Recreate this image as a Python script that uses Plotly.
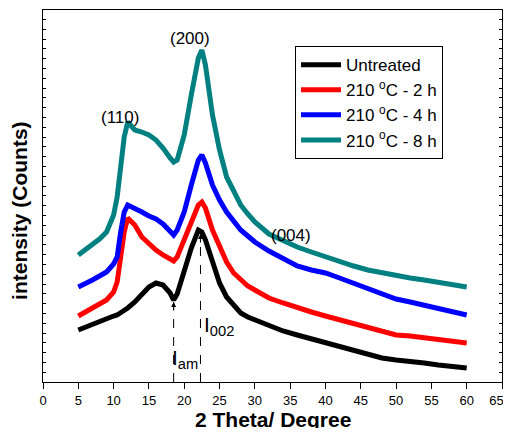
import plotly.graph_objects as go

two_theta = [5, 6, 7, 8, 9, 10, 10.5, 11, 11.5, 12, 13, 14, 15, 16, 17, 18, 18.5, 19, 20, 21, 22, 22.5, 23, 24, 25,
             26, 27, 28, 29, 30, 32, 34, 36, 38, 40, 42, 44, 46, 48, 50, 52, 54, 56, 58, 60]

untreated = [52, 55, 57, 60, 63, 66, 67, 69, 71, 74, 80, 88, 95, 99, 97, 89, 82, 88, 112, 134, 152, 150, 142, 119, 99,
             85, 76, 69, 65, 62, 56, 51, 47, 43, 39, 36, 32, 28, 24, 22, 21, 19, 17, 16, 14]
t2h = [66, 70, 73, 77, 82, 90, 100, 125, 150, 164, 157, 145, 138, 132, 127, 123, 121, 125, 142, 160, 177, 180, 174, 152, 135,
       120, 109, 102, 96, 92, 84, 79, 74, 70, 66, 62, 58, 54, 50, 47, 46, 44, 42, 41, 39]
t4h = [95, 98, 102, 106, 110, 118, 125, 150, 170, 177, 174, 170, 166, 163, 158, 150, 147, 152, 170, 197, 222, 227, 219, 197, 182,
       170, 160, 152, 146, 140, 131, 123, 116, 112, 109, 104, 99, 93, 89, 83, 80, 77, 74, 71, 67]
t8h = [127, 132, 137, 143, 150, 167, 185, 217, 245, 260, 252, 250, 247, 242, 234, 224, 220, 222, 247, 287, 324, 332, 317, 267, 232,
       205, 190, 177, 168, 160, 148, 141, 135, 130, 125, 121, 116, 112, 109, 106, 104, 102, 100, 97, 95]

names = ["Untreated", "210 <sup>o</sup>C - 2 h", "210 <sup>o</sup>C - 4 h", "210 <sup>o</sup>C - 8 h"]
colors = ["#000000", "#ff0000", "#0000ff", "#008080"]
series = [untreated, t2h, t4h, t8h]

x_ticks = [0, 5, 10, 15, 20, 25, 30, 35, 40, 45, 50, 55, 60, 65]
x_tick_text = [str(v) for v in x_ticks[:-1]] + ["65&nbsp;&nbsp;&nbsp;"]

x_title = "2 Theta/ Degree"
y_title = "intensity (Counts)"

fig = go.Figure()
for nm, col, ys in zip(names, colors, series):
    fig.add_trace(go.Scatter(x=two_theta, y=ys, mode="lines", name=nm,
                             line=dict(color=col, width=5)))

font = "Liberation Sans, Arial, sans-serif"

# peak markers
i_am_x, i_am_y = 18.5, 80
i_002_x, i_002_y = 22.3, 148
for xx, yy in [(i_am_x, i_am_y), (i_002_x, i_002_y)]:
    fig.add_shape(type="line", x0=xx, x1=xx, y0=0, y1=yy, xref="x", yref="y",
                  line=dict(color="black", width=1, dash="dash"))
    fig.add_annotation(x=xx, y=yy, ax=0, ay=10, showarrow=True, arrowhead=2, arrowsize=1,
                       arrowwidth=1, arrowcolor="black", text="")

annots = [
    ("(110)", 10.9, 265),
    ("(200)", 20.8, 344),
    ("(004)", 35.1, 147),
]
for txt, xx, yy in annots:
    fig.add_annotation(x=xx, y=yy, text=txt, showarrow=False,
                       font=dict(family=font, size=17, color="black"))
fig.add_annotation(x=20.1, y=23, text="I<sub>am</sub>", showarrow=False,
                   font=dict(family=font, size=21, color="black"))
fig.add_annotation(x=24.9, y=56, text="I<sub>002</sub>", showarrow=False,
                   font=dict(family=font, size=21, color="black"))

# axis titles as paper-positioned text
fig.add_annotation(x=0.5, y=-0.1, xref="paper", yref="paper", xanchor="center", yanchor="middle",
                   text=f"<b>{x_title}</b>", showarrow=False,
                   font=dict(family=font, size=21, color="black"))
fig.add_annotation(x=-0.05, y=0.46, xref="paper", yref="paper", xanchor="center", yanchor="middle",
                   text=f"<b>{y_title}</b>", textangle=-90, showarrow=False,
                   font=dict(family=font, size=21, color="black"))

# page body has an 8px margin: figure is shrunk and shifted accordingly
fig.update_layout(
    width=503, height=420,
    margin=dict(l=35, r=9, t=2, b=46),
    paper_bgcolor="white", plot_bgcolor="white",
    font=dict(family=font, color="black"),
    showlegend=True,
    legend=dict(x=0.549, y=0.903, xanchor="left", yanchor="top",
                bordercolor="black", borderwidth=1, bgcolor="white",
                font=dict(family=font, size=17, color="black"),
                itemwidth=40),
    xaxis=dict(range=[0, 65], tickvals=x_ticks, ticktext=x_tick_text, showgrid=False, zeroline=False,
               automargin=False, showline=True, linecolor="black", linewidth=1, mirror=True,
               ticks="outside", ticklen=6, tickcolor="black", ticklabeloverflow="allow",
               tickfont=dict(family=font, size=13, color="black")),
    yaxis=dict(range=[0, 372], dtick=9.8, tick0=0, showgrid=False, zeroline=False, automargin=False,
               showline=True, linecolor="black", linewidth=1, mirror="ticks",
               ticks="inside", ticklen=3, tickcolor="black", showticklabels=False),
)

fig.write_html("out.html")
